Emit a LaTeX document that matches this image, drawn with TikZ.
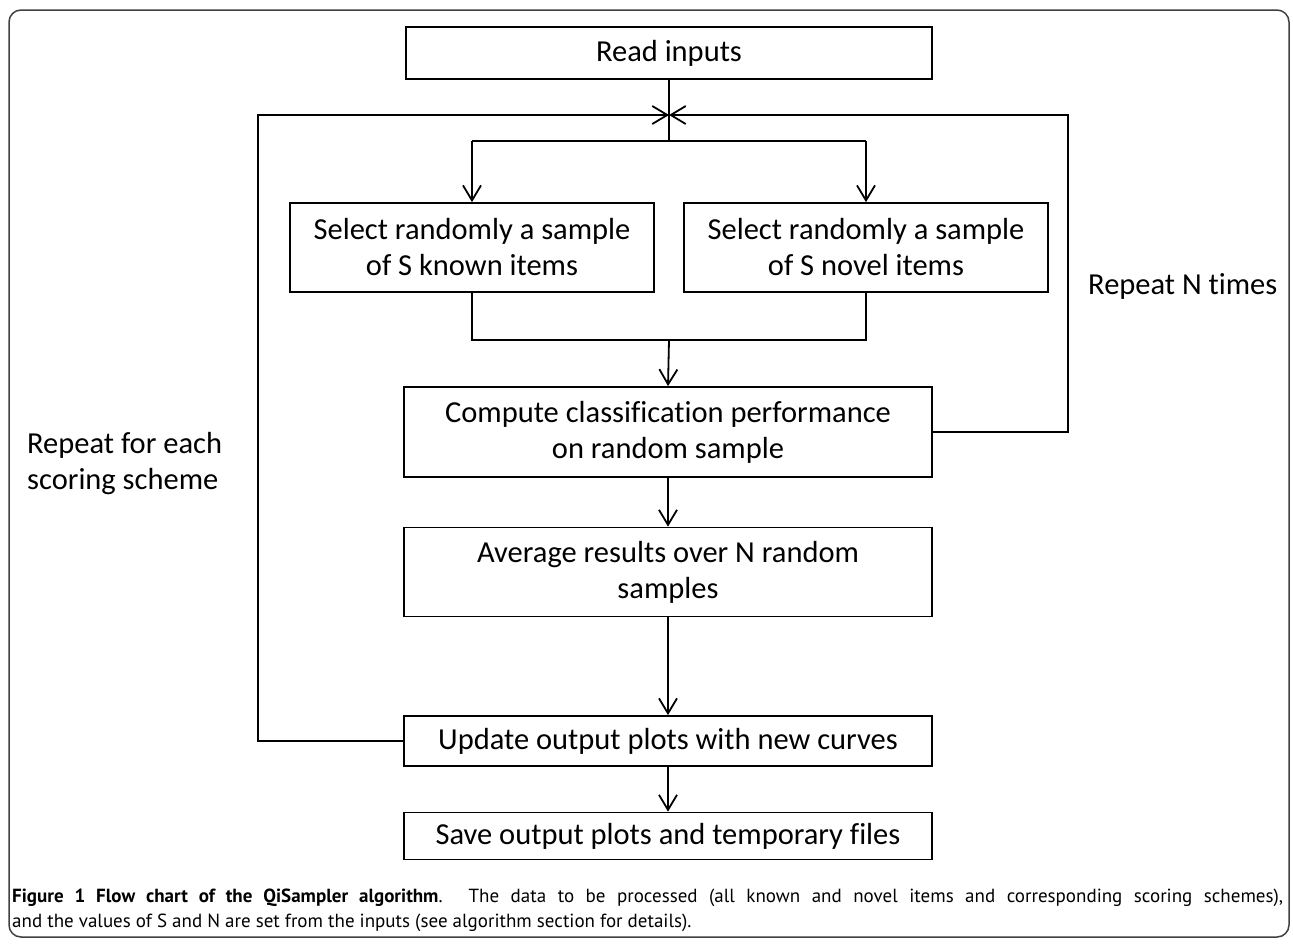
\documentclass[tikz,border=0pt]{standalone}
\usepackage{fontspec}
\setmainfont[Ligatures=NoCommon]{Carlito}
\newfontfamily\capfont{PT Sans}
\usetikzlibrary{arrows.meta,positioning}
\tikzset{
  box/.style={draw, line width=1.8pt, inner sep=0pt, align=center, font=\fontsize{30.5}{36}\selectfont},
  arr/.style={line width=1.8pt, -{Straight Barb[length=15pt,width=18pt]}},
  ln/.style={line width=1.8pt},
  lbl/.style={inner sep=0pt, align=left, font=\fontsize{30.5}{36}\selectfont}
}
\begin{document}
\begin{tikzpicture}[x=1pt,y=-1pt]
\useasboundingbox (0,0) rectangle (1293,943);
\draw[line width=1.5pt, draw=black!75, rounded corners=12pt] (9,10) rectangle (1289,937);
% boxes (centre, size)
\node[box, minimum width=526pt, minimum height=52pt] (read) at (669,53) {Read inputs};
\node[box, minimum width=364pt, minimum height=89pt] (known) at (472,247.5) {Select randomly a sample\\of S known items};
\node[box, minimum width=364pt, minimum height=89pt] (novel) at (866,247.5) {Select randomly a sample\\of S novel items};
\node[box, minimum width=528pt, minimum height=90pt] (comp) at (668,432) {Compute classification performance\\on random sample};
\node[box, minimum width=528pt, minimum height=89pt] (avg) at (668,572) {Average results over N random\\samples};
\node[box, minimum width=528pt, minimum height=50pt] (upd) at (668,741) {Update output plots with new curves};
\node[box, minimum width=528pt, minimum height=47pt] (save) at (668,836) {Save output plots and temporary files};
% coordinates
\coordinate (j) at (669,115);
\coordinate (s) at (669,141);
\coordinate (sl) at (472,141);
\coordinate (sr) at (866,141);
\coordinate (m) at (669,340);
\coordinate (rt) at (1068,115);
\coordinate (rb) at (1068,432);
\coordinate (lt) at (258,115);
\coordinate (lb) at (258,741);
% main flow
\draw[ln] (read.south) -- (s);
\draw[ln] (sl) -- (sr);
\draw[arr] (sl) -- (known.north);
\draw[arr] (sr) -- (novel.north);
\draw[ln] (known.south) |- (m);
\draw[ln] (novel.south) |- (m);
\draw[arr] (m) -- (comp.north);
\draw[arr] (comp.south) -- (avg.north);
\draw[arr] (avg.south) -- (upd.north);
\draw[arr] (upd.south) -- (save.north);
% loops
\draw[arr] (comp.east) -- (rb) -- (rt) -- (j);
\draw[arr] (upd.west) -- (lb) -- (lt) -- (j);
% labels
\node[lbl, anchor=base west] (rn) at (1088,294) {Repeat N times};
\node[lbl, anchor=base west] (rs) at (27,489) {Repeat for each\\scoring scheme};
% caption
\node[anchor=north west, inner sep=0pt, text width=1271pt, align=justify, font=\capfont\fontsize{19}{25}\selectfont] (cap) at (12,889)
{\textbf{Figure 1 Flow chart of the QiSampler algorithm}. The data to be processed (all known and novel items and corresponding scoring schemes),\linebreak and the values of S and N are set from the inputs (see algorithm section for details).};
\end{tikzpicture}
\end{document}
